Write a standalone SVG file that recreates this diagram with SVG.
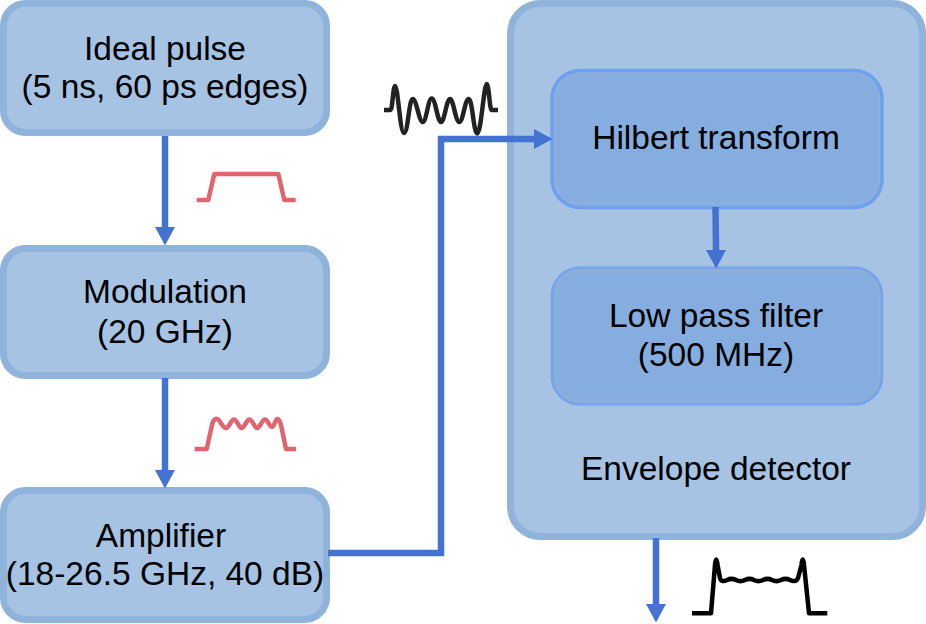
<svg xmlns="http://www.w3.org/2000/svg" width="926" height="624" viewBox="0 0 926 624">
<style>
text{font-family:"Liberation Sans",Arial,sans-serif;font-size:33.500px;fill:#000;text-anchor:middle}
.box{fill:#a6c3e3;stroke:#8fb3db;stroke-width:7}
.glow{fill:none;stroke:#6d9ff0;stroke-width:2.500;opacity:.75}
.glow-strong{fill:none;stroke:#6d9ff0;stroke-width:3.500;opacity:.95}
.inner{fill:#85addf;stroke:#8bafdc;stroke-width:6}
.conn{fill:none;stroke:#4472d0;stroke-width:6.500}
.red{fill:none;stroke:#e06570;stroke-width:4.500;stroke-linejoin:round;stroke-linecap:butt}
.blk{fill:none;stroke:#222;stroke-width:4.500;stroke-linejoin:round}
.blk2{fill:none;stroke:#000;stroke-width:4.500;stroke-linejoin:round}
</style>
<defs>
<marker id="arrow" markerUnits="userSpaceOnUse" markerWidth="20" markerHeight="20" refX="0" refY="10" orient="auto">
<path d="M0 0L18.500 10L0 20Z" fill="#4472d0"/>
</marker>
</defs>
<g id="node-ideal-pulse">
<rect class="box" x="3.500" y="3.500" width="323" height="129" rx="22"/>
<text x="165" y="60">Ideal pulse</text>
<text x="165" y="98">(5 ns, 60 ps edges)</text>
</g>
<g id="node-modulation">
<rect class="box" x="3.500" y="248.500" width="323" height="127" rx="22"/>
<text x="165" y="303">Modulation</text>
<text x="165" y="343">(20 GHz)</text>
</g>
<g id="node-amplifier">
<rect class="box" x="3.500" y="490.500" width="323" height="129" rx="22"/>
<text x="161" y="547">Amplifier</text>
<text x="165" y="585">(18-26.5 GHz, 40 dB)</text>
</g>
<g id="node-envelope-detector">
<rect class="box" x="510.500" y="3.500" width="412" height="533" rx="30"/>
<text x="716" y="480">Envelope detector</text>
</g>
<g id="node-hilbert">
<rect class="inner" x="554" y="73" width="326" height="132" rx="26"/>
<rect class="glow-strong" x="552" y="70.500" width="330" height="137" rx="28"/>
<text x="716" y="149">Hilbert transform</text>
</g>
<g id="node-lowpass">
<rect class="inner" x="554" y="270" width="326" height="132" rx="26"/>
<rect class="glow" x="552" y="267.500" width="330" height="137" rx="28"/>
<text x="716" y="327">Low pass filter</text>
<text x="716" y="366">(500 MHz)</text>
</g>
<g id="connectors">
<path class="conn" marker-end="url(#arrow)" d="M165 136V227"/>
<path class="conn" marker-end="url(#arrow)" d="M165 378V470"/>
<path class="conn" marker-end="url(#arrow)" d="M328 553H441V139H534"/>
<path class="conn" marker-end="url(#arrow)" d="M715.500 207L716 250"/>
<path class="conn" marker-end="url(#arrow)" d="M656 538V604"/>
</g>
<g id="waveforms">
<path class="red" d="M196.700 200H208.300L214.300 174H278.300L284.300 200H295.700"/>
<path class="red" d="M194.700 449H206.700L212 425C213.500 418 217 417.500 219.500 421C222 424.500 223.500 428 226 428C229 428 231 419.500 234 419.500C237 419.500 239 428 241.500 428C244.500 428 246.500 419.500 249.500 419.500C252.500 419.500 254.500 428 257 428C260 428 262 419.500 265 419.500C268 419.500 269.500 427 272 427C274.500 427 275 419 277.500 419C279.500 419 280 422 281 425L286 449H296"/>
<path class="blk" d="M384 110H390.500C392.500 110 393 86 395 86C398 86 400 133 404 133C408 133 409 99 412.700 99C416.500 99 419 122 422.700 122C426.500 122 428 98.500 431.700 98.500C435.500 98.500 437.500 122 441 122C444.500 122 446.500 99 450 99C453.500 99 455.500 122 459.300 122C463 122 465 99 468.700 99C472.500 99 473.500 133.500 477.300 133.500C481 133.500 484 84 486.700 84C489 84 489.500 110 491.700 110H498"/>
<path class="blk2" d="M692 613.300H711L715 565C715.500 557.500 717 557.500 717.500 565L720 578C721 582 724 581.500 727 580C730 578.500 733 578.500 736 580C739 581.500 742 581.500 745 580C748 578.500 751 578.500 754 580C757 581.500 760 581.500 763 580C766 578.500 769 578.500 772 580C775 581.500 778 581.500 781 580C784 578.500 787 578.500 790 580C793 581.500 796.500 582 798 578L801.500 565C802 557.500 803.500 557.500 804 565L809 613.300H827.300"/>
</g>
</svg>
